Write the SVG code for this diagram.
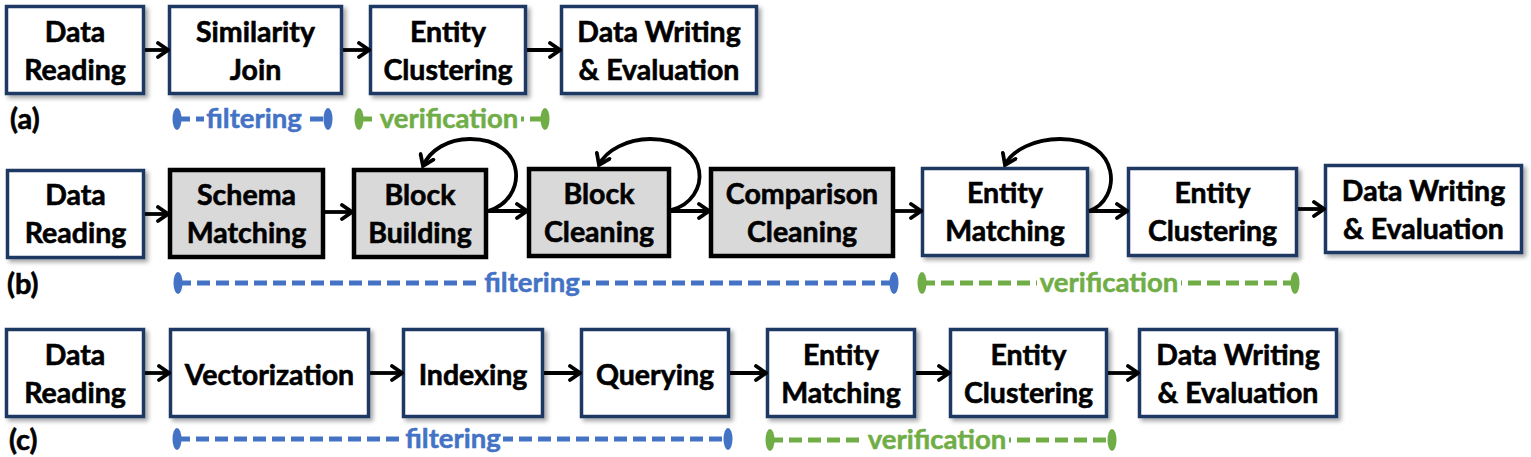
<svg xmlns="http://www.w3.org/2000/svg" width="1531" height="457" viewBox="0 0 1531 457">
<defs>
<filter id="sh" x="-10%" y="-10%" width="130%" height="140%">
<feDropShadow dx="3" dy="3" stdDeviation="2" flood-color="#000" flood-opacity="0.35"/>
</filter>
<marker id="ah" viewBox="0 0 14 18" refX="12" refY="9" markerWidth="14" markerHeight="18" markerUnits="userSpaceOnUse" orient="auto">
<path d="M2,2 L12,9 L2,16" fill="none" stroke="#000" stroke-width="3.8" stroke-linecap="round" stroke-linejoin="miter"/>
</marker>
</defs>
<style>
.wb{fill:#fff;stroke:#1F3864;stroke-width:3.5;filter:url(#sh)}
.gb{fill:#D9D9D9;stroke:#000;stroke-width:4.5}
.t{font-family:Lato,"Liberation Sans",sans-serif;font-weight:bold;font-size:28.5px;fill:#000;stroke:#000;stroke-width:0.6;text-anchor:middle}
.lbl{font-family:Lato,"Liberation Sans",sans-serif;font-weight:bold;font-size:29px;fill:#000;stroke:#000;stroke-width:0.6}
.c{fill:none;stroke:#000;stroke-width:3.8;marker-end:url(#ah)}
.fb{stroke:#4472C4;stroke-width:5;stroke-dasharray:13 6;fill:none}
.vb{stroke:#70AD47;stroke-width:5;stroke-dasharray:13 6;fill:none}
.fe{fill:#4472C4}
.ve{fill:#70AD47}
.bg{fill:#fff}
.ft{font-family:Lato,"Liberation Sans",sans-serif;font-weight:bold;font-size:27.5px;fill:#4472C4;stroke:#4472C4;stroke-width:0.5;text-anchor:middle}
.vt{font-family:Lato,"Liberation Sans",sans-serif;font-weight:bold;font-size:27.5px;fill:#70AD47;stroke:#70AD47;stroke-width:0.5;text-anchor:middle}
</style>
<rect width="1531" height="457" fill="#fff"/>

<!-- Row (a) -->
<g id="a-data-reading"><rect class="wb" x="6.5" y="6.5" width="137" height="87"/><text class="t" x="75" y="42">Data</text><text class="t" x="75" y="80">Reading</text></g>
<g id="a-similarity-join"><rect class="wb" x="169.5" y="6.5" width="172" height="87"/><text class="t" x="255.5" y="42">Similarity</text><text class="t" x="255.5" y="80">Join</text></g>
<g id="a-entity-clustering"><rect class="wb" x="370.5" y="6.5" width="155" height="87"/><text class="t" x="448" y="42">Entity</text><text class="t" x="448" y="80">Clustering</text></g>
<g id="a-data-writing"><rect class="wb" x="561.5" y="6.5" width="195" height="87"/><text class="t" x="659" y="42">Data Writing</text><text class="t" x="659" y="80">&amp; Evaluation</text></g>
<g id="a-label"><text class="lbl" x="10" y="129">(a)</text></g>
<g id="a-filtering"><line class="fb" x1="177" y1="119" x2="328" y2="119"/><ellipse class="fe" cx="177" cy="119" rx="4.5" ry="11"/><ellipse class="fe" cx="328" cy="119" rx="4.5" ry="11"/><rect class="bg" x="204" y="106" width="100" height="26"/><text class="ft" x="254" y="128">filtering</text></g>
<g id="a-verification"><line class="vb" x1="359" y1="119" x2="545" y2="119"/><ellipse class="ve" cx="359" cy="119" rx="4.5" ry="11"/><ellipse class="ve" cx="545" cy="119" rx="4.5" ry="11"/><rect class="bg" x="377" y="106" width="144" height="26"/><text class="vt" x="449" y="128">verification</text></g>

<!-- Row (b) -->
<g id="b-data-reading"><rect class="wb" x="7.5" y="170.5" width="136" height="87"/><text class="t" x="75.5" y="205">Data</text><text class="t" x="75.5" y="243">Reading</text></g>
<g id="b-schema-matching"><rect class="gb" x="170" y="170" width="153" height="87"/><text class="t" x="246.5" y="205">Schema</text><text class="t" x="246.5" y="243">Matching</text></g>
<g id="b-block-building"><rect class="gb" x="354" y="170" width="132" height="87"/><text class="t" x="420" y="205">Block</text><text class="t" x="420" y="243">Building</text></g>
<g id="b-block-cleaning"><rect class="gb" x="529" y="169" width="140" height="87"/><text class="t" x="599" y="204">Block</text><text class="t" x="599" y="242">Cleaning</text></g>
<g id="b-comparison-cleaning"><rect class="gb" x="711" y="169" width="182" height="87"/><text class="t" x="802" y="204">Comparison</text><text class="t" x="802" y="242">Cleaning</text></g>
<g id="b-entity-matching"><rect class="wb" x="922.5" y="168.5" width="165" height="87"/><text class="t" x="1005" y="203">Entity</text><text class="t" x="1005" y="241">Matching</text></g>
<g id="b-entity-clustering"><rect class="wb" x="1128.5" y="168.5" width="168" height="87"/><text class="t" x="1212.5" y="203">Entity</text><text class="t" x="1212.5" y="241">Clustering</text></g>
<g id="b-data-writing"><rect class="wb" x="1325.5" y="165.5" width="196" height="87"/><text class="t" x="1423.5" y="201">Data Writing</text><text class="t" x="1423.5" y="239">&amp; Evaluation</text></g>
<g id="b-label"><text class="lbl" x="7" y="294">(b)</text></g>
<g id="b-filtering"><line class="fb" x1="178" y1="283" x2="894" y2="283"/><ellipse class="fe" cx="178" cy="283" rx="4.5" ry="11"/><ellipse class="fe" cx="894" cy="283" rx="4.5" ry="11"/><rect class="bg" x="482" y="270" width="100" height="26"/><text class="ft" x="532" y="292">filtering</text></g>
<g id="b-verification"><line class="vb" x1="922" y1="283" x2="1295" y2="283"/><ellipse class="ve" cx="922" cy="283" rx="4.5" ry="11"/><ellipse class="ve" cx="1295" cy="283" rx="4.5" ry="11"/><rect class="bg" x="1037" y="270" width="144" height="26"/><text class="vt" x="1109" y="292">verification</text></g>

<!-- Row (c) -->
<g id="c-data-reading"><rect class="wb" x="6.5" y="329.5" width="137" height="87"/><text class="t" x="75" y="365">Data</text><text class="t" x="75" y="403">Reading</text></g>
<g id="c-vectorization"><rect class="wb" x="170.5" y="329.5" width="198" height="87"/><text class="t" x="269.5" y="385">Vectorization</text></g>
<g id="c-indexing"><rect class="wb" x="403.5" y="329.5" width="139" height="87"/><text class="t" x="473" y="385">Indexing</text></g>
<g id="c-querying"><rect class="wb" x="581.5" y="329.5" width="147" height="87"/><text class="t" x="655" y="385">Querying</text></g>
<g id="c-entity-matching"><rect class="wb" x="767.5" y="329.5" width="147" height="87"/><text class="t" x="841" y="365">Entity</text><text class="t" x="841" y="403">Matching</text></g>
<g id="c-entity-clustering"><rect class="wb" x="950.5" y="329.5" width="156" height="87"/><text class="t" x="1028.5" y="365">Entity</text><text class="t" x="1028.5" y="403">Clustering</text></g>
<g id="c-data-writing"><rect class="wb" x="1139.5" y="329.5" width="197" height="87"/><text class="t" x="1238" y="365">Data Writing</text><text class="t" x="1238" y="403">&amp; Evaluation</text></g>
<g id="c-label"><text class="lbl" x="9" y="450">(c)</text></g>
<g id="c-filtering"><line class="fb" x1="177" y1="439" x2="728" y2="439"/><ellipse class="fe" cx="177" cy="439" rx="4.5" ry="11"/><ellipse class="fe" cx="728" cy="439" rx="4.5" ry="11"/><rect class="bg" x="403" y="426" width="100" height="26"/><text class="ft" x="453" y="448">filtering</text></g>
<g id="c-verification"><line class="vb" x1="770" y1="440" x2="1112" y2="440"/><ellipse class="ve" cx="770" cy="440" rx="4.5" ry="11"/><ellipse class="ve" cx="1112" cy="440" rx="4.5" ry="11"/><rect class="bg" x="865" y="427" width="144" height="26"/><text class="vt" x="937" y="449">verification</text></g>

<!-- Connectors -->
<g id="connectors">
<line class="c" x1="145" y1="50" x2="168" y2="50"/>
<line class="c" x1="343" y1="50" x2="369" y2="50"/>
<line class="c" x1="527" y1="50" x2="560" y2="50"/>

<line class="c" x1="145" y1="214" x2="168" y2="214"/>
<line class="c" x1="325" y1="212" x2="352" y2="212"/>
<line class="c" x1="488" y1="211" x2="527" y2="211"/>
<line class="c" x1="671" y1="211" x2="709" y2="211"/>
<line class="c" x1="895" y1="211" x2="921" y2="211"/>
<line class="c" x1="1089" y1="211" x2="1127" y2="211"/>
<line class="c" x1="1298" y1="209" x2="1324" y2="209"/>
<path class="c" d="M488,211 C528,200 528,139 470,139 C448,139 430,150 423,166"/>
<path class="c" d="M671,210 C712,200 712,139 650,139 C628,139 606,150 599,165"/>
<path class="c" d="M1089,211 C1122,200 1122,139 1060,139 C1035,139 1012,150 1005,165"/>

<line class="c" x1="145" y1="373" x2="169" y2="373"/>
<line class="c" x1="370" y1="373" x2="402" y2="373"/>
<line class="c" x1="544" y1="373" x2="580" y2="373"/>
<line class="c" x1="730" y1="373" x2="766" y2="373"/>
<line class="c" x1="916" y1="373" x2="949" y2="373"/>
<line class="c" x1="1108" y1="373" x2="1138" y2="373"/>
</g>
</svg>
